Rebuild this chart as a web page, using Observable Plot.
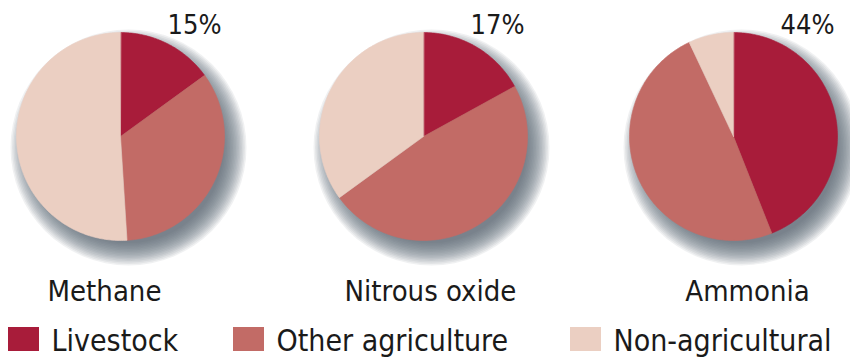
<!DOCTYPE html>
<html>
<head>
<meta charset="utf-8">
<script src="https://cdn.jsdelivr.net/npm/d3@7"></script>
<script src="https://cdn.jsdelivr.net/npm/@observablehq/plot@0.6"></script>
<style>
  html, body { margin: 0; padding: 0; background: #fff; }
</style>
</head>
<body>
<div id="chart"></div>
<script>
// Share of emissions by source (%)
const gases = ["Methane", "Nitrous oxide", "Ammonia"];
const sources = ["Livestock", "Other agriculture", "Non-agricultural"];
const livestock = [15, 17, 44];
const otherAgriculture = [34, 48, 49];
const nonAgricultural = [51, 35, 7];
const sourceColors = ["#a81c3a", "#c26b66", "#ebcfc2"];

// Layout (pixels)
const W = 850, H = 360;
const pieX = [120, 423, 733];
const pieY = 136;
const R = 104;
const nameX = [104, 430, 747];
const nameBaseline = 300;
const pctBaseline = 33;
const pctOffset = 47;
const legendX = [8, 233, 570];
const legendBaseline = 350;
const font = "'DejaVu Sans Condensed', 'DejaVu Sans', sans-serif";

const shares = gases.map((g, i) => [livestock[i], otherAgriculture[i], nonAgricultural[i]]);

// Wedge outlines: centre, arc from start to end angle (clockwise from 12 o'clock), back to centre
const wedgePoints = [];
gases.forEach((gas, gi) => {
  const vals = shares[gi];
  const total = d3.sum(vals);
  let acc = 0;
  vals.forEach((v, si) => {
    const a0 = (acc / total) * 2 * Math.PI;
    acc += v;
    const a1 = (acc / total) * 2 * Math.PI;
    const key = gas + "|" + sources[si];
    const cx = pieX[gi];
    wedgePoints.push({key, source: sources[si], x: cx, y: pieY});
    const steps = Math.max(2, Math.ceil((a1 - a0) / (Math.PI / 180)));
    for (let k = 0; k <= steps; k++) {
      const a = a0 + (a1 - a0) * k / steps;
      wedgePoints.push({key, source: sources[si], x: cx + R * Math.sin(a), y: pieY - R * Math.cos(a)});
    }
  });
});

const pies = gases.map((gas, i) => ({gas, x: pieX[i], y: pieY, pct: livestock[i]}));
const legendItems = sources.map((s, i) => ({source: s, x: legendX[i]}));

// Soft shadow built from stacked translucent discs, widest first
const shadowRings = pies.flatMap(p => d3.range(16).map(k => ({x: p.x, y: p.y, r: R + 14 - k * 1.5})));

const plot = Plot.plot({
  width: W,
  height: H,
  margin: 0,
  x: {domain: [0, W], range: [0, W], axis: null},
  y: {domain: [0, H], range: [0, H], axis: null},
  r: {type: "identity"},
  color: {domain: sources, range: sourceColors},
  style: {background: "#fff", fontFamily: font},
  marks: [
    Plot.dot(shadowRings, {x: "x", y: "y", r: "r", dx: 8, dy: 11, fill: "#5c6270", fillOpacity: 0.09, stroke: "none"}),
    Plot.line(wedgePoints, {x: "x", y: "y", z: "key", fill: "source", stroke: "source", strokeWidth: 0.6, curve: "linear-closed"}),
    Plot.text(pies, {x: "x", y: pctBaseline, dx: pctOffset, text: d => d.pct + "%", textAnchor: "start", lineAnchor: "bottom", fontSize: 27, fill: "#1a1a1a"}),
    Plot.text(gases, {x: (d, i) => nameX[i], y: nameBaseline, text: d => d, textAnchor: "middle", lineAnchor: "bottom", fontSize: 29, fill: "#1a1a1a"}),
    Plot.rect(legendItems, {x1: "x", x2: d => d.x + 31, y1: legendBaseline - 23, y2: legendBaseline + 1, fill: "source"}),
    Plot.text(legendItems, {x: d => d.x + 43, y: legendBaseline, text: "source", textAnchor: "start", lineAnchor: "bottom", fontSize: 30, fill: "#1a1a1a"})
  ]
});

document.getElementById("chart").append(plot);
</script>
</body>
</html>
